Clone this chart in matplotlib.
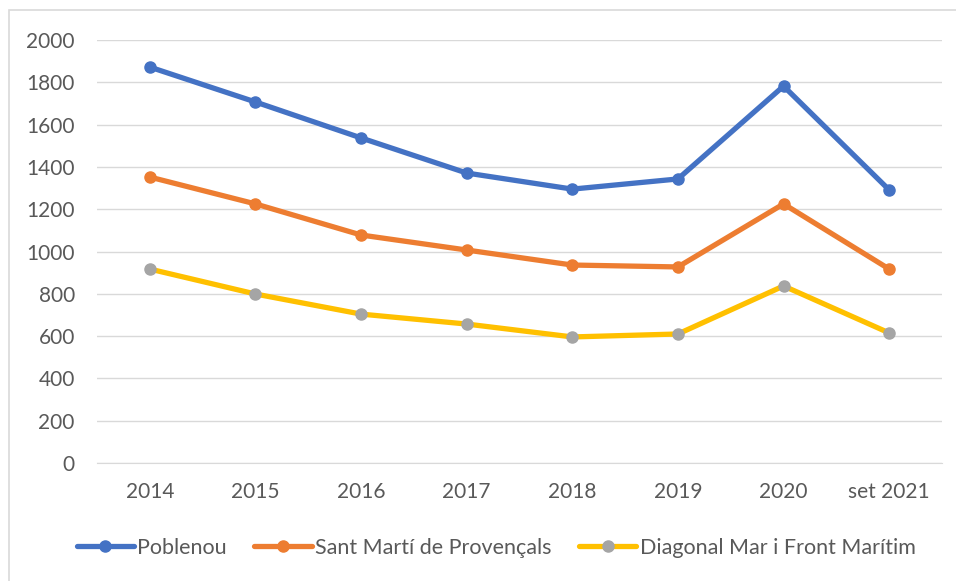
import matplotlib
matplotlib.use("Agg")
import matplotlib.pyplot as plt
from matplotlib.patches import Rectangle

matplotlib.rcParams["font.family"] = ["Lato", "DejaVu Sans"]
matplotlib.rcParams["font.size"] = 12

years = ["2014", "2015", "2016", "2017", "2018", "2019", "2020", "set 2021"]
poblenou = [1872, 1707, 1537, 1371, 1295, 1343, 1782, 1291]
sant_marti = [1352, 1225, 1078, 1007, 936, 927, 1225, 917]
diagonal = [917, 799, 704, 657, 596, 610, 837, 615]

series = [
    ("Poblenou", poblenou, "#4472C4", "#4472C4"),
    ("Sant Martí de Provençals", sant_marti, "#ED7D31", "#ED7D31"),
    ("Diagonal Mar i Front Marítim", diagonal, "#FFC000", "#A5A5A5"),
]

W, H = 956, 581
fig = plt.figure(figsize=(W / 100, H / 100), dpi=100)
ax = fig.add_axes([97 / W, 1 - 463 / H, (942 - 97) / W, (463 - 40) / H])

x = list(range(len(years)))
for name, vals, col, mcol in series:
    ax.plot(x, vals, color=col, lw=3.8, marker="o", ms=8,
            markerfacecolor=mcol, markeredgecolor=mcol, label=name,
            solid_capstyle="round")

ax.set_xlim(-0.5, len(years) - 0.5)
ax.set_ylim(0, 2000)
ax.set_yticks(range(0, 2001, 200))
ax.set_xticks(x)
ax.set_xticklabels(years)
ax.grid(axis="y", color="#D9D9D9", lw=1)
ax.set_axisbelow(True)
for s in ["top", "right", "left"]:
    ax.spines[s].set_visible(False)
ax.spines["bottom"].set_color("#D9D9D9")
ax.tick_params(length=0, colors="#595959", labelsize=15)
ax.tick_params(axis="x", pad=14)
ax.tick_params(axis="y", pad=16)

fig.legend(loc="center", bbox_to_anchor=(496 / W, 1 - 548 / H), ncol=3,
           frameon=False, fontsize=15.5, handlelength=2.65, columnspacing=1.3,
           handletextpad=0.15, labelcolor="#595959")

fig.patches.append(Rectangle((9 / W, -0.1), 1.2, 1 - 10 / H + 0.1,
                             transform=fig.transFigure, fill=False,
                             edgecolor="#D9D9D9", lw=1.2))

fig.savefig("out.png", dpi=100)
